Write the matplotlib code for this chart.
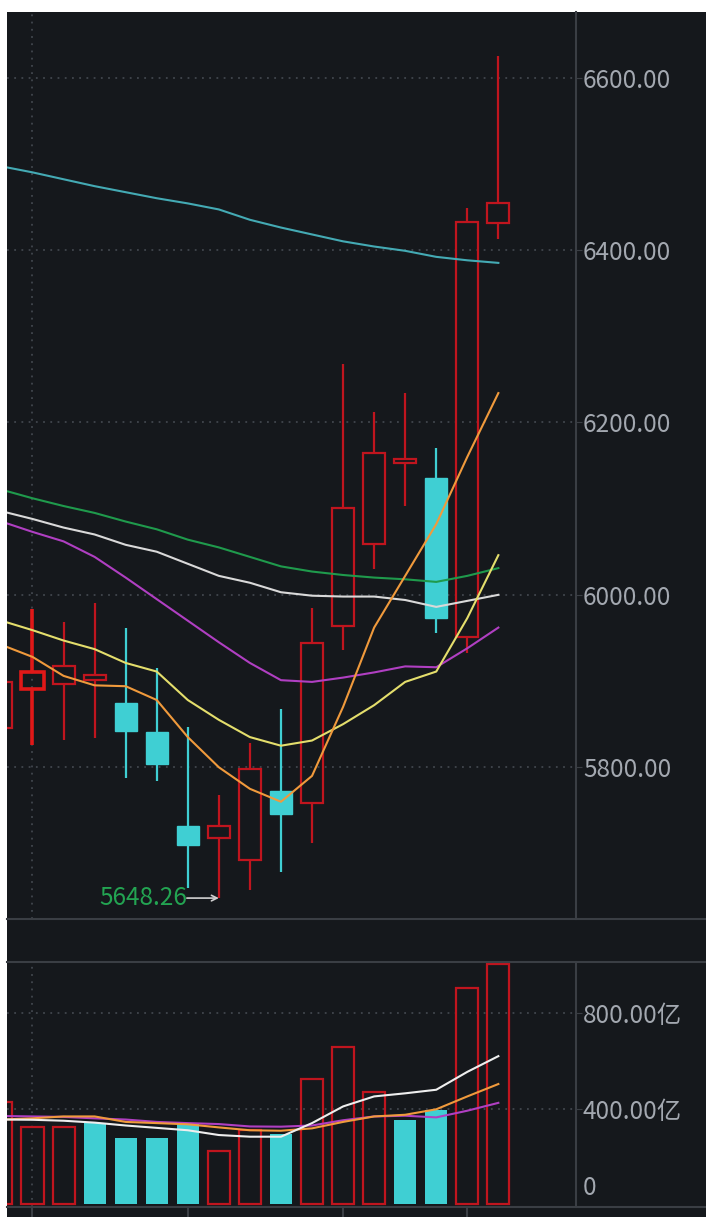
import matplotlib.pyplot as plt
from matplotlib.patches import Rectangle
from matplotlib.lines import Line2D

plt.rcParams['font.family'] = ['Noto Sans CJK SC', 'DejaVu Sans']

# daily candles (index 0 is the partly hidden one on the left)
opens  = [5846, 5891, 5897, 5901, 5875, 5841, 5732, 5718, 5693, 5773, 5759, 5964, 6059, 6153, 6136, 5951, 6431]
highs  = [5925, 5983, 5968, 5991, 5961, 5915, 5847, 5768, 5828, 5868, 5985, 6268, 6212, 6234, 6170, 6449, 6625]
lows   = [5830, 5826, 5832, 5834, 5787, 5784, 5660, 5648.26, 5658, 5678, 5712, 5936, 6030, 6103, 5956, 5933, 6413]
closes = [5899, 5911, 5918, 5907, 5842, 5804, 5710, 5732, 5798, 5746, 5944, 6101, 6165, 6157, 5973, 6432, 6454]
prev_close0 = 5840

# moving averages
ma5   = [5942, 5928, 5906, 5895, 5894, 5878, 5835, 5800, 5775, 5760, 5790, 5870, 5962, 6022, 6082, 6160, 6234]
ma10  = [5970, 5959, 5947, 5937, 5921, 5911, 5878, 5855, 5835, 5825, 5831, 5850, 5872, 5899, 5911, 5973, 6046]
ma20  = [6085, 6073, 6062, 6044, 6020, 5995, 5970, 5945, 5921, 5901, 5899, 5904, 5910, 5917, 5916, 5938, 5962]
ma30  = [6097, 6088, 6078, 6070, 6058, 6050, 6036, 6022, 6014, 6003, 5999, 5998, 5998, 5994, 5986, 5993, 6000]
ma60  = [6122, 6112, 6103, 6095, 6085, 6076, 6064, 6055, 6044, 6033, 6027, 6023, 6020, 6018, 6015, 6022, 6031]
ma250 = [6497, 6490, 6482, 6474, 6467, 6460, 6454, 6447, 6435, 6426, 6418, 6410, 6404, 6399, 6392, 6388, 6385]

# turnover (亿)
volume = [429, 325, 325, 342, 279, 279, 335, 221, 310, 294, 525, 658, 469, 354, 396, 908, 1008]
vol_ma5  = [355, 354, 350, 342, 330, 320, 310, 290, 283, 283, 340, 410, 452, 465, 480, 555, 621]
vol_ma10 = [355, 360, 368, 368, 345, 340, 335, 322, 310, 308, 318, 345, 368, 375, 398, 452, 504]
vol_ma20 = [370, 368, 366, 360, 355, 345, 340, 336, 326, 325, 330, 352, 368, 371, 364, 392, 425]

price_ticks = [5800, 6000, 6200, 6400, 6600]
vol_ticks = [400, 800]
low_idx = 7

bg = '#15181c'
red = '#c0151e'
cyan = '#3fcfd3'
grid_c = '#41464d'
line_c = '#3a3e44'
label_c = '#a3a8b0'
fs = 17.5

W, H = 706, 1224
fig = plt.figure(figsize=(W / 100, H / 100), dpi=100, facecolor='white')
fig.patches.append(Rectangle((7 / W, 7 / H), 699 / W, 1205 / H, transform=fig.transFigure,
                             facecolor=bg, edgecolor='none', zorder=-10))

def fy(py):
    return 1 - py / H

ax1 = fig.add_axes([7 / W, fy(919), 569 / W, (919 - 12) / H])
ax2 = fig.add_axes([7 / W, fy(1207), 569 / W, (1207 - 962) / H])

n = len(closes)
xs = list(range(n))
bw = 0.71

for ax in (ax1, ax2):
    ax.set_facecolor(bg)
    for s in ax.spines.values():
        s.set_visible(False)
    ax.set_xlim(0.179, 18.5)
    ax.axvline(1, color=grid_c, lw=1.3, ls=(0, (1, 3)), zorder=1)

# candles
for i in xs:
    o, h, l, c = opens[i], highs[i], lows[i], closes[i]
    up = c >= o
    col = red if up else cyan
    lw = 2.6 if i == 1 else 1.6
    wc = '#e01818' if i == 1 else col
    top, bot = max(o, c), min(o, c)
    ax1.plot([i, i], [top, h], color=wc, lw=lw, zorder=3, solid_capstyle='butt')
    ax1.plot([i, i], [l, bot], color=wc, lw=lw, zorder=3, solid_capstyle='butt')
    hgt = max(top - bot, 1.5)
    if up:
        ax1.add_patch(Rectangle((i - bw / 2, bot), bw, hgt, facecolor='none', edgecolor=wc,
                                lw=lw, zorder=3))
    else:
        ax1.add_patch(Rectangle((i - bw / 2, bot), bw, hgt, facecolor=col, edgecolor=col,
                                lw=1, zorder=3))

for vals, c in [(ma250, '#44aab4'), (ma60, '#1f9a4c'), (ma30, '#d9d9d9'), (ma20, '#b03fc2'),
                (ma10, '#e4de6c'), (ma5, '#f09a3c')]:
    ax1.plot(xs, vals, color=c, lw=1.5, zorder=4)

ax1.set_ylim(5624, 6676)
ax1.set_yticks(price_ticks)
ax1.set_yticklabels([f'{t:.2f}' for t in price_ticks])
ax1.yaxis.tick_right()
ax1.tick_params(axis='y', colors=line_c, labelcolor=label_c, labelsize=fs, length=4, pad=1)
ax1.tick_params(axis='x', bottom=False, labelbottom=False)
for t in price_ticks:
    ax1.axhline(t, color=grid_c, lw=1.3, ls=(0, (1, 3)), zorder=1)

# lowest price marker
ax1.annotate('', xy=(low_idx, lows[low_idx]), xytext=(low_idx - 1.03, lows[low_idx]),
             arrowprops=dict(arrowstyle='->', color='#d0d0d0', lw=1.2, shrinkA=0, shrinkB=0),
             zorder=5)
ax1.text(low_idx - 1.03, lows[low_idx], f'{lows[low_idx]:.2f}', color='#23a452',
         fontsize=fs, ha='right', va='center', zorder=5)

# volume bars
for i in xs:
    pc = prev_close0 if i == 0 else closes[i - 1]
    if closes[i] >= pc:
        ax2.add_patch(Rectangle((i - bw / 2, 0), bw, volume[i], facecolor='none',
                                edgecolor=red, lw=1.6, zorder=3))
    else:
        ax2.bar(i, volume[i], width=bw, color=cyan, zorder=3)

for vals, c in [(vol_ma20, '#b03fc2'), (vol_ma10, '#f09a3c'), (vol_ma5, '#eeeeee')]:
    ax2.plot(xs, vals, color=c, lw=1.5, zorder=4)

ax2.set_ylim(-12, 1016)
ax2.set_yticks(vol_ticks)
ax2.set_yticklabels([f'{t:.2f}亿' for t in vol_ticks])
ax2.yaxis.tick_right()
ax2.tick_params(axis='y', colors=line_c, labelcolor=label_c, labelsize=fs, length=4, pad=1)
for t in vol_ticks:
    ax2.axhline(t, color=grid_c, lw=1.3, ls=(0, (1, 3)), zorder=1)
ax2.annotate('0', xy=(1, 0), xycoords=('axes fraction', 'data'), xytext=(7, 16),
             textcoords='offset pixels', color=label_c, fontsize=fs, ha='left', va='center')
ax2.set_xticks([1, 6, 11, 15])
ax2.tick_params(axis='x', colors=line_c, length=7, width=1.5, labelbottom=False)

# panel frame lines
for py in (919, 962, 1207):
    fig.add_artist(Line2D([7 / W, 1], [fy(py), fy(py)], color=line_c, lw=1.5))
fig.add_artist(Line2D([576 / W, 576 / W], [fy(12), fy(919)], color=line_c, lw=1.5))
fig.add_artist(Line2D([576 / W, 576 / W], [fy(962), fy(1207)], color=line_c, lw=1.5))

fig.savefig('out.png', dpi=100, facecolor='white')
